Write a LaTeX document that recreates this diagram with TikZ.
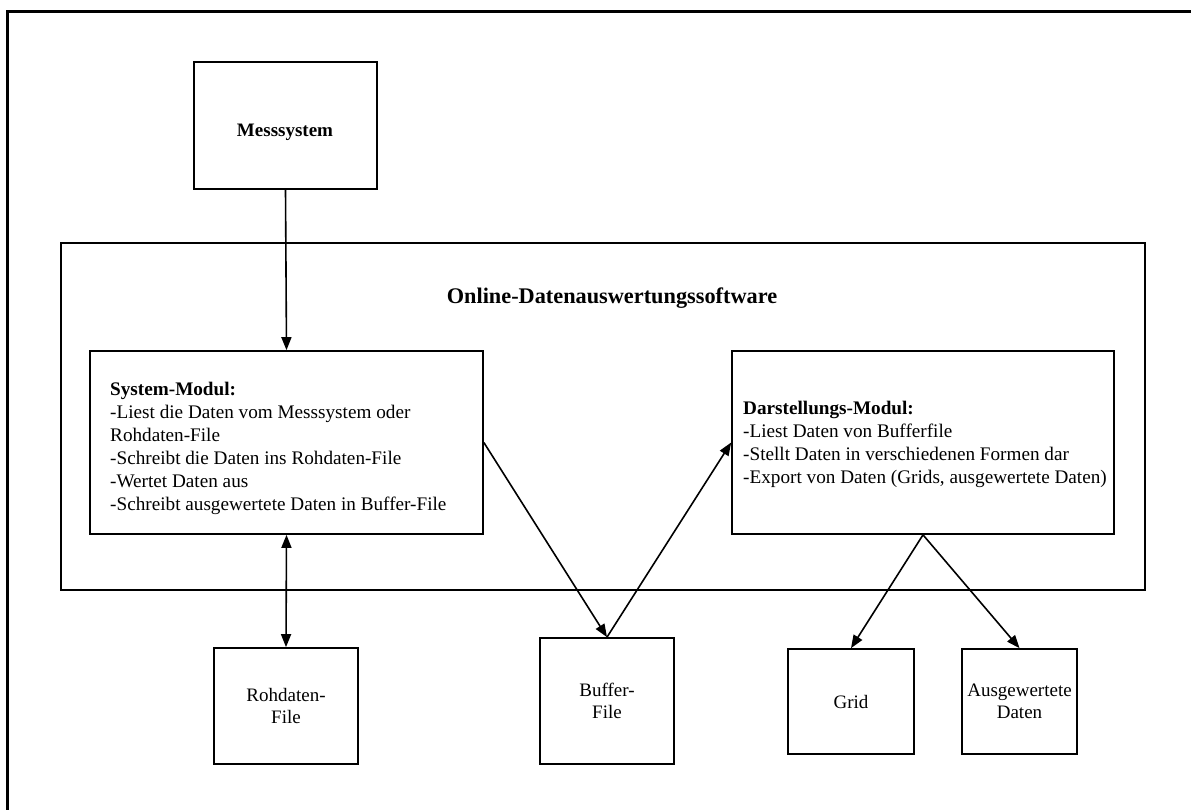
\documentclass[tikz,border=0pt]{standalone}
\usepackage{fontspec}
\setmainfont{Liberation Serif}
\usetikzlibrary{arrows.meta}
\begin{document}
\begin{tikzpicture}[x=1pt,y=-1pt,
  box/.style={draw, line width=1.7pt, inner sep=0pt, align=center,
    font=\fontsize{19}{22}\selectfont},
  body/.style={inner sep=0pt, align=left, anchor=base west,
    font=\fontsize{19.2}{23}\selectfont},
  arr/.style={line width=1.6pt, -{Triangle[length=13pt,width=10pt]}},
  darr/.style={line width=1.6pt, {Triangle[length=13pt,width=10pt]}-{Triangle[length=13pt,width=10pt]}}]
\useasboundingbox (0,0) rectangle (1191,810);
\fill[white] (0,0) rectangle (1191,810);
% outer frame (cropped)
\draw[line width=3pt] (7.5,812) -- (7.5,11.5) -- (1193,11.5);
% Messsystem
\node[box, minimum width=183pt, minimum height=127pt] (mess) at (285.5,125.5) {};
\node[inner sep=0pt, anchor=base, font=\fontsize{19}{22}\selectfont\bfseries] (messt) at (285,137) {Messsystem};
% Online box
\node[box, minimum width=1084pt, minimum height=347pt] (online) at (603,416.5) {};
\node[inner sep=0pt, anchor=base, font=\fontsize{22.3}{26}\selectfont\bfseries] (title) at (612,303) {Online-Datenauswertungssoftware};
% System-Modul
\node[box, minimum width=393pt, minimum height=183pt] (sm) at (286.5,442.5) {};
\node[body] (smt) at (110,395) {\textbf{System-Modul:}};
\node[body] (sm1) at (110,418) {-Liest die Daten vom Messsystem oder};
\node[body] (sm2) at (110,441) {Rohdaten-File};
\node[body] (sm3) at (110,464) {-Schreibt die Daten ins Rohdaten-File};
\node[body] (sm4) at (110,487) {-Wertet Daten aus};
\node[body] (sm5) at (110,510) {-Schreibt ausgewertete Daten in Buffer-File};
% Darstellungs-Modul
\node[box, minimum width=382pt, minimum height=183pt] (dm) at (923,442.5) {};
\node[body] (dmt) at (743,414) {\textbf{Darstellungs-Modul:}};
\node[body] (dm1) at (743,437) {-Liest Daten von Bufferfile};
\node[body] (dm2) at (743,460) {-Stellt Daten in verschiedenen Formen dar};
\node[body] (dm3) at (743,483) {-Export von Daten (Grids, ausgewertete Daten)};
% bottom boxes
\node[box, minimum width=144pt, minimum height=116pt] (roh) at (286,706) {Rohdaten-\\File};
\node[box, minimum width=134pt, minimum height=126pt] (buf) at (607,701) {Buffer-\\File};
\node[box, minimum width=126pt, minimum height=105pt] (grid) at (851,701.5) {Grid};
\node[box, minimum width=115pt, minimum height=105pt] (ausg) at (1019.5,701.5) {Ausgewertete\\Daten};
% connectors
\draw[arr] (mess.south) -- (sm.north);
\draw[darr] (sm.south) -- (roh.north);
\draw[arr] (sm.east) -- (buf.north);
\draw[arr] (buf.north) -- (dm.west);
\draw[arr] (dm.south) -- (grid.north);
\draw[arr] (dm.south) -- (ausg.north);
\end{tikzpicture}
\end{document}
